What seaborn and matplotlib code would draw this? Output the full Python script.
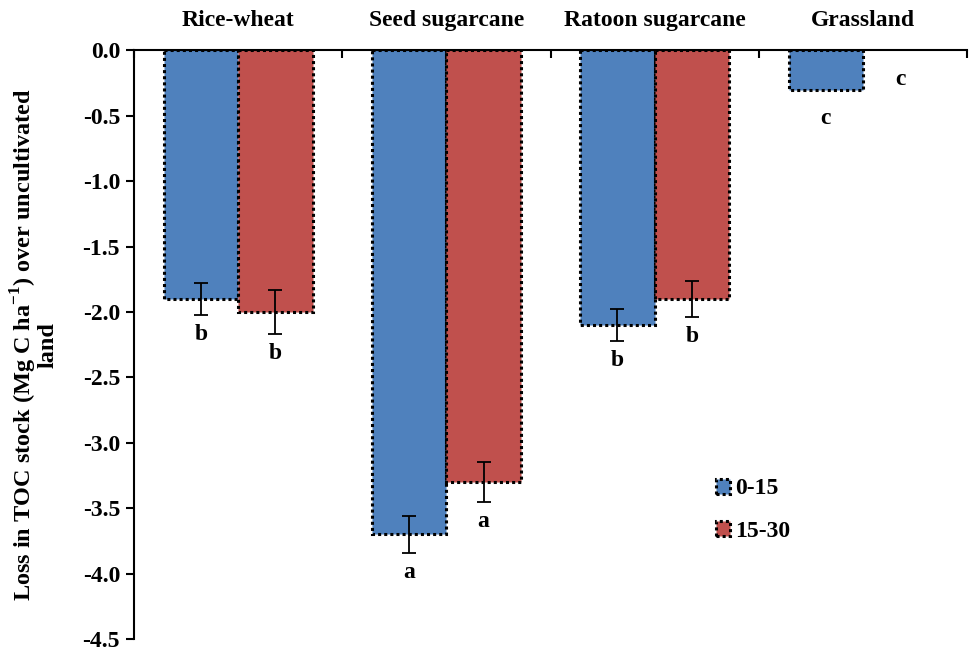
import numpy as np
import pandas as pd
import matplotlib
matplotlib.use('Agg')
import matplotlib.pyplot as plt
from matplotlib.patches import Patch
import seaborn as sns

# data
systems = ['Rice-wheat', 'Seed sugarcane', 'Ratoon sugarcane', 'Grassland']
depths = ['0-15', '15-30']
loss_0_15 = [-1.9, -3.7, -2.1, -0.3]
loss_15_30 = [-2.0, -3.3, -1.9, 0.0]
err_0_15 = [0.12, 0.14, 0.12, 0.0]
err_15_30 = [0.17, 0.15, 0.14, 0.0]
letters_0_15 = ['b', 'a', 'b', 'c']
letters_15_30 = ['b', 'a', 'b', 'c']

colors = ['#4F81BD', '#C0504D']

sns.set_style('white')
plt.rcParams['font.family'] = ['Liberation Serif', 'DejaVu Serif']
plt.rcParams['font.weight'] = 'bold'
plt.rcParams['text.color'] = 'black'
plt.rcParams['axes.labelcolor'] = 'black'
plt.rcParams['xtick.color'] = 'black'
plt.rcParams['ytick.color'] = 'black'
plt.rcParams['mathtext.fontset'] = 'custom'
plt.rcParams['mathtext.rm'] = 'Liberation Serif:bold'
plt.rcParams['mathtext.bf'] = 'Liberation Serif:bold'

df = pd.DataFrame({
    'system': systems * 2,
    'depth': [depths[0]] * 4 + [depths[1]] * 4,
    'loss': loss_0_15 + loss_15_30,
})

fig = plt.figure(figsize=(9.71, 6.52), dpi=100)
ax = fig.add_axes([0.138, 0.0199, 0.858, 0.903])

sns.barplot(data=df, x='system', y='loss', hue='depth', order=systems,
            hue_order=depths, palette=colors, width=0.715, errorbar=None,
            saturation=1, edgecolor='black', linewidth=2.2, ax=ax, legend=False)

for p in ax.patches:
    p.set_linestyle((0, (1, 1)))
    if p.get_height() == 0:
        p.set_visible(False)

# error bars and significance letters on top of the seaborn bars
errs = [err_0_15, err_15_30]
vals = [loss_0_15, loss_15_30]
lets = [letters_0_15, letters_15_30]
bar_conts = list(ax.containers)
for j, cont in enumerate(bar_conts):
    for i, bar in enumerate(cont):
        xc = bar.get_x() + bar.get_width() / 2
        v, e = vals[j][i], errs[j][i]
        if e > 0:
            ax.errorbar(xc, v, yerr=e, fmt='none', ecolor='black',
                        elinewidth=1.3, capsize=5, capthick=1.3)
        off = 0.15 if e > 0 else 0.22
        ax.text(xc, v - e - off, lets[j][i], ha='center', va='center',
                fontsize=17, fontweight='bold', color='black')

ax.set_ylim(-4.5, 0)
ax.set_xlim(-0.5, 3.5)
ax.set_yticks(np.arange(-4.5, 0.01, 0.5))
ax.set_yticklabels([f'{t:.1f}' for t in np.arange(-4.5, 0.01, 0.5)])

ax.xaxis.tick_top()
ax.set_xticks(range(len(systems)))
ax.set_xticklabels(systems)
ax.set_xticks(np.arange(-0.5, 3.6, 1), minor=True)
ax.tick_params(axis='x', which='major', length=0, pad=14, labelsize=17)
ax.tick_params(axis='x', which='minor', top=True, bottom=False, direction='in',
               length=6, width=1.5)
ax.tick_params(axis='y', left=True, direction='out', length=6, width=1.5,
               labelsize=17, pad=4)
for lab in ax.get_xticklabels() + ax.get_yticklabels():
    lab.set_fontweight('bold')

ax.set_xlabel('')
ax.set_ylabel('Loss in TOC stock (Mg C ha$^{-1}$) over uncultivated\nland',
              fontsize=17.5, fontweight='bold', linespacing=0.95)
ax.yaxis.set_label_coords(-0.09, 0.5)

for s in ['right', 'bottom']:
    ax.spines[s].set_visible(False)
for s in ['top', 'left']:
    ax.spines[s].set_linewidth(1.5)
    ax.spines[s].set_color('black')

handles = [Patch(facecolor=c, edgecolor='black', linestyle=(0, (1, 1)),
                 linewidth=2.2) for c in colors]
leg = fig.legend(handles, depths, loc='center left',
                 bbox_to_anchor=(695 / 971, 1 - 510 / 652), frameon=False,
                 handlelength=0.6, handleheight=0.6, handletextpad=0.2,
                 labelspacing=0.9, prop={'size': 17, 'weight': 'bold'})

fig.savefig('out.png', dpi=100)
